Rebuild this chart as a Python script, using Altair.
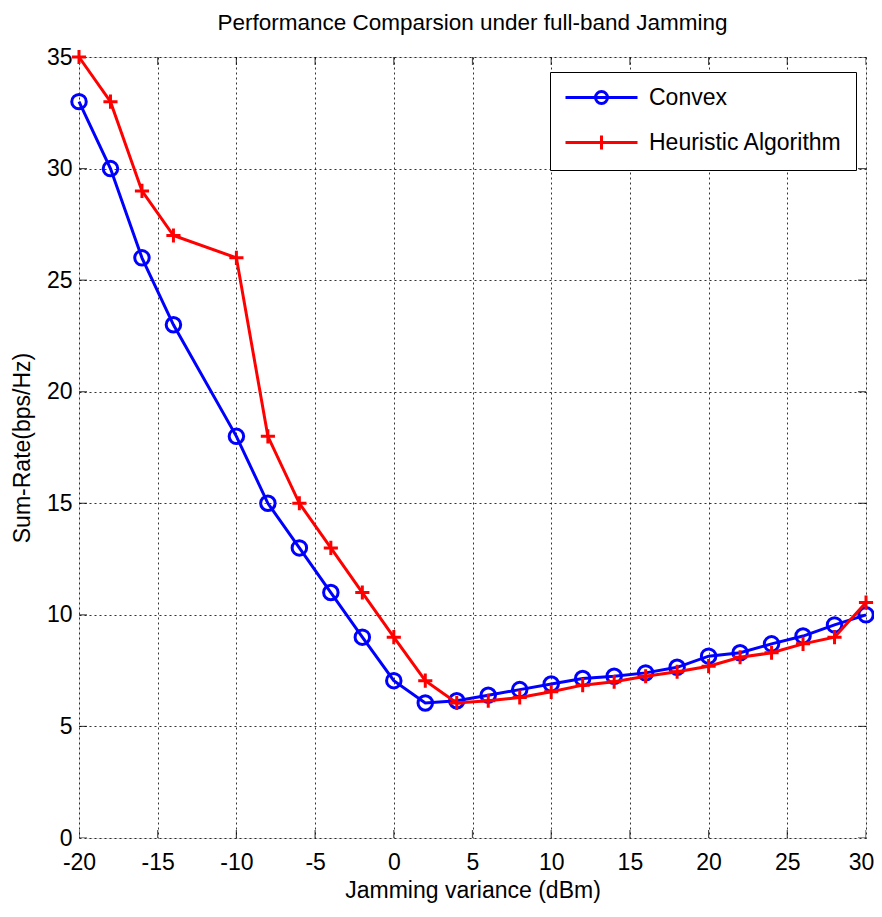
import altair as alt
import pandas as pd

x_vals = [-20, -18, -16, -14, -10, -8, -6, -4, -2, 0, 2, 4, 6, 8, 10,
          12, 14, 16, 18, 20, 22, 24, 26, 28, 30]
convex = [33, 30, 26, 23, 18, 15, 13, 11, 9, 7.05, 6.05, 6.15, 6.4, 6.65, 6.9,
          7.15, 7.25, 7.4, 7.65, 8.15, 8.3, 8.7, 9.05, 9.55, 10.0]
heuristic = [35, 33, 29, 27, 26, 18, 15, 13, 11, 9, 7.05, 6.05, 6.15, 6.3, 6.55,
             6.85, 7.0, 7.25, 7.45, 7.7, 8.1, 8.3, 8.7, 9.0, 10.55]
series_names = ["Convex", "Heuristic Algorithm"]
series_colors = ["#0000ff", "#ff0000"]
x_ticks = [-20, -15, -10, -5, 0, 5, 10, 15, 20, 25, 30]
y_ticks = [0, 5, 10, 15, 20, 25, 30, 35]
x_domain = [-20, 30]
y_domain = [0, 35]

rows = []
for name, vals in zip(series_names, [convex, heuristic]):
    for xv, yv in zip(x_vals, vals):
        rows.append({"x": xv, "y": yv, "series": name})
df = pd.DataFrame(rows)

xt_df = pd.DataFrame([{"x": t, "y": b} for t in x_ticks for b in y_domain])
yt_df = pd.DataFrame([{"x": b, "y": t} for t in y_ticks for b in x_domain])

FONT = "Liberation Sans, Arial, Helvetica"

xscale = alt.Scale(domain=x_domain, nice=False, zero=False)
yscale = alt.Scale(domain=y_domain, nice=False, zero=False)
cscale = alt.Scale(domain=series_names, range=series_colors)

xaxis = alt.Axis(values=x_ticks, title="Jamming variance (dBm)", grid=True,
                 gridDash=[2, 3], gridColor="#000000", gridOpacity=0.8,
                 ticks=False, domain=False, labelFontSize=23, labelColor="black",
                 labelFont=FONT, labelPadding=13, titleFont=FONT,
                 labelExpr="toString(datum.value)",
                 labelOffset={"condition": {"test": "datum.value == 30", "value": -5},
                              "value": 0},
                 titleFontSize=23, titleFontWeight="normal", titleColor="black",
                 titlePadding=5, labelFlush=False)
yaxis = alt.Axis(values=y_ticks, title="Sum-Rate(bps/Hz)", grid=True,
                 gridDash=[2, 3], gridColor="#000000", gridOpacity=0.8,
                 ticks=False, domain=False, labelFontSize=23, labelColor="black",
                 labelFont=FONT, labelPadding=7, titleFont=FONT,
                 titleFontSize=23, titleFontWeight="normal", titleColor="black",
                 titlePadding=12, labelFlush=False)

shape_expr = ("datum.value === 'Convex' ? "
              "'M-3.6,0L3.6,0M0.6,0A0.6,0.6 0 1 1 -0.6,0A0.6,0.6 0 1 1 0.6,0' : "
              "'M-3.6,0L3.6,0M0,-0.7L0,0.7'")

legend = alt.Legend(title=None, orient="none", legendX=471, legendY=15,
                    strokeColor="black", fillColor="white", padding=14,
                    labelFont=FONT, labelFontSize=23, labelColor="black",
                    labelLimit=0,
                    symbolSize=400, symbolStrokeWidth=3, symbolOffset=26,
                    labelOffset=36, rowPadding=19,
                    symbolFillColor="transparent",
                    symbolType=alt.ExprRef(expr=shape_expr))

base = alt.Chart(df).encode(
    x=alt.X("x:Q", scale=xscale, axis=xaxis),
    y=alt.Y("y:Q", scale=yscale, axis=yaxis),
)

layers = []
marker_shapes = ["circle", "M-1,0L1,0M0,-1L0,1"]
marker_sizes = [210, 200]
for i, name in enumerate(series_names):
    sub = base.transform_filter(alt.datum.series == name)
    line = sub.mark_line(strokeWidth=3).encode(
        color=alt.Color("series:N", scale=cscale, legend=legend)
    )
    pts = sub.mark_point(shape=marker_shapes[i], size=marker_sizes[i],
                         strokeWidth=3, filled=False, opacity=1,
                         color=series_colors[i])
    layers += [line, pts]

xticks_layer = alt.Chart(xt_df).mark_tick(
    orient="vertical", size=16, thickness=1.2, color="black", clip=True
).encode(x=alt.X("x:Q", scale=xscale), y=alt.Y("y:Q", scale=yscale))
yticks_layer = alt.Chart(yt_df).mark_tick(
    orient="horizontal", size=16, thickness=1.2, color="black", clip=True
).encode(x=alt.X("x:Q", scale=xscale), y=alt.Y("y:Q", scale=yscale))

chart = alt.layer(xticks_layer, yticks_layer, *layers).properties(
    width=787, height=781,
    title=alt.Title("Performance Comparsion under full-band Jamming",
                    font=FONT, fontSize=22.5, fontWeight="normal", color="black",
                    offset=9, anchor="middle"),
    autosize=alt.AutoSizeParams(type="none"),
    padding={"left": 71, "top": 49, "right": 8, "bottom": 70},
).configure_view(stroke="black", strokeWidth=1.2).configure(background="white")

chart.save("out.html", embed_options={"renderer": "svg", "actions": False})
